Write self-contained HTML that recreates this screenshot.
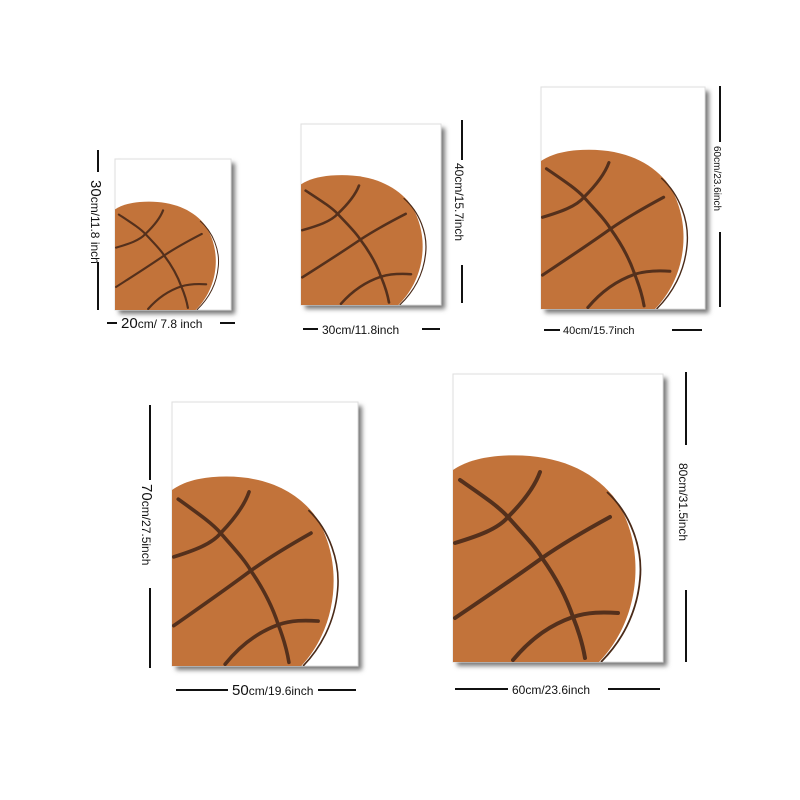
<!DOCTYPE html>
<html><head><meta charset="utf-8"><style>
body{margin:0;background:#fff;}
svg{display:block;font-family:"Liberation Sans",sans-serif;}
</style></head><body>
<svg width="800" height="800" viewBox="0 0 800 800">
<defs>
<filter id="sh" x="-10%" y="-10%" width="130%" height="130%"><feGaussianBlur stdDeviation="2.5"/></filter>
<symbol id="ball" viewBox="0 0 210 288" preserveAspectRatio="none">
<path d="M0,96 C12,88 25,84 45,82 C95,78 135,92 160,122 C192,165 192,240 146,288 L0,288 Z" fill="#c2733a"/>
<path d="M154,118 C178,140 190,175 187,205 C184,240 168,268 148,288" fill="none" stroke="#4a2a18" stroke-width="1.8"/>
<g fill="none" stroke="#54301c" stroke-width="4" stroke-linecap="round">
<path d="M7,106 C30,122 45,132 55,143 C70,160 82,172 89,184 C104,205 114,225 120,243 C126,258 130,272 132,284"/>
<path d="M2,169 C25,162 45,155 55,143 C70,128 82,112 87,98"/>
<path d="M2,244 C30,225 60,205 89,184 C112,168 135,155 157,143"/>
<path d="M60,286 C80,262 100,250 120,243 C135,238 150,238 165,239"/>
</g>
</symbol>
</defs>
<g>
<rect x="119" y="163" width="116" height="151" fill="#777" filter="url(#sh)"/>
<rect x="115" y="159" width="116" height="151" fill="#fff" stroke="#ddd"/>
<use href="#ball" x="115" y="159" width="116" height="151"/>
</g>
<g>
<rect x="305" y="128" width="140" height="181" fill="#777" filter="url(#sh)"/>
<rect x="301" y="124" width="140" height="181" fill="#fff" stroke="#ddd"/>
<use href="#ball" x="301" y="124" width="140" height="181"/>
</g>
<g>
<rect x="545" y="91" width="164" height="222" fill="#777" filter="url(#sh)"/>
<rect x="541" y="87" width="164" height="222" fill="#fff" stroke="#ddd"/>
<use href="#ball" x="541" y="87" width="164" height="222"/>
</g>
<g>
<rect x="176" y="406" width="186" height="264" fill="#777" filter="url(#sh)"/>
<rect x="172" y="402" width="186" height="264" fill="#fff" stroke="#ddd"/>
<use href="#ball" x="172" y="402" width="186" height="264"/>
</g>
<g>
<rect x="457" y="378" width="210" height="288" fill="#777" filter="url(#sh)"/>
<rect x="453" y="374" width="210" height="288" fill="#fff" stroke="#ddd"/>
<use href="#ball" x="453" y="374" width="210" height="288"/>
</g>
<g stroke="#111" stroke-width="2">
<line x1="98" y1="150" x2="98" y2="172"/><line x1="98" y1="262" x2="98" y2="310"/>
<line x1="107" y1="323" x2="117" y2="323"/><line x1="220" y1="323" x2="235" y2="323"/>
<line x1="462" y1="120" x2="462" y2="160"/><line x1="462" y1="265" x2="462" y2="303"/>
<line x1="303" y1="329" x2="318" y2="329"/><line x1="422" y1="329" x2="440" y2="329"/>
<line x1="720" y1="86" x2="720" y2="142"/><line x1="720" y1="232" x2="720" y2="307"/>
<line x1="544" y1="330" x2="560" y2="330"/><line x1="672" y1="330" x2="702" y2="330"/>
<line x1="150" y1="405" x2="150" y2="480"/><line x1="150" y1="588" x2="150" y2="668"/>
<line x1="176" y1="690" x2="228" y2="690"/><line x1="318" y1="690" x2="356" y2="690"/>
<line x1="686" y1="372" x2="686" y2="445"/><line x1="686" y1="590" x2="686" y2="662"/>
<line x1="455" y1="689" x2="508" y2="689"/><line x1="608" y1="689" x2="660" y2="689"/>
</g>
<g fill="#111" font-size="12">
<text transform="translate(91,180) rotate(90)"><tspan font-size="15">30</tspan>cm/11.8 inch</text>
<text x="121" y="328"><tspan font-size="15">20</tspan>cm/ 7.8 inch</text>
<text transform="translate(455,163) rotate(90)">40cm/15.7inch</text>
<text x="322" y="334">30cm/11.8inch</text>
<text font-size="10" transform="translate(714,146) rotate(90)">60cm/23.6inch</text>
<text font-size="11" x="563" y="334">40cm/15.7inch</text>
<text transform="translate(142,484) rotate(90)"><tspan font-size="15">70</tspan>cm/27.5inch</text>
<text x="232" y="695"><tspan font-size="15">50</tspan>cm/19.6inch</text>
<text transform="translate(679,463) rotate(90)">80cm/31.5inch</text>
<text x="512" y="694">60cm/23.6inch</text>
</g>
</svg>
</body></html>
